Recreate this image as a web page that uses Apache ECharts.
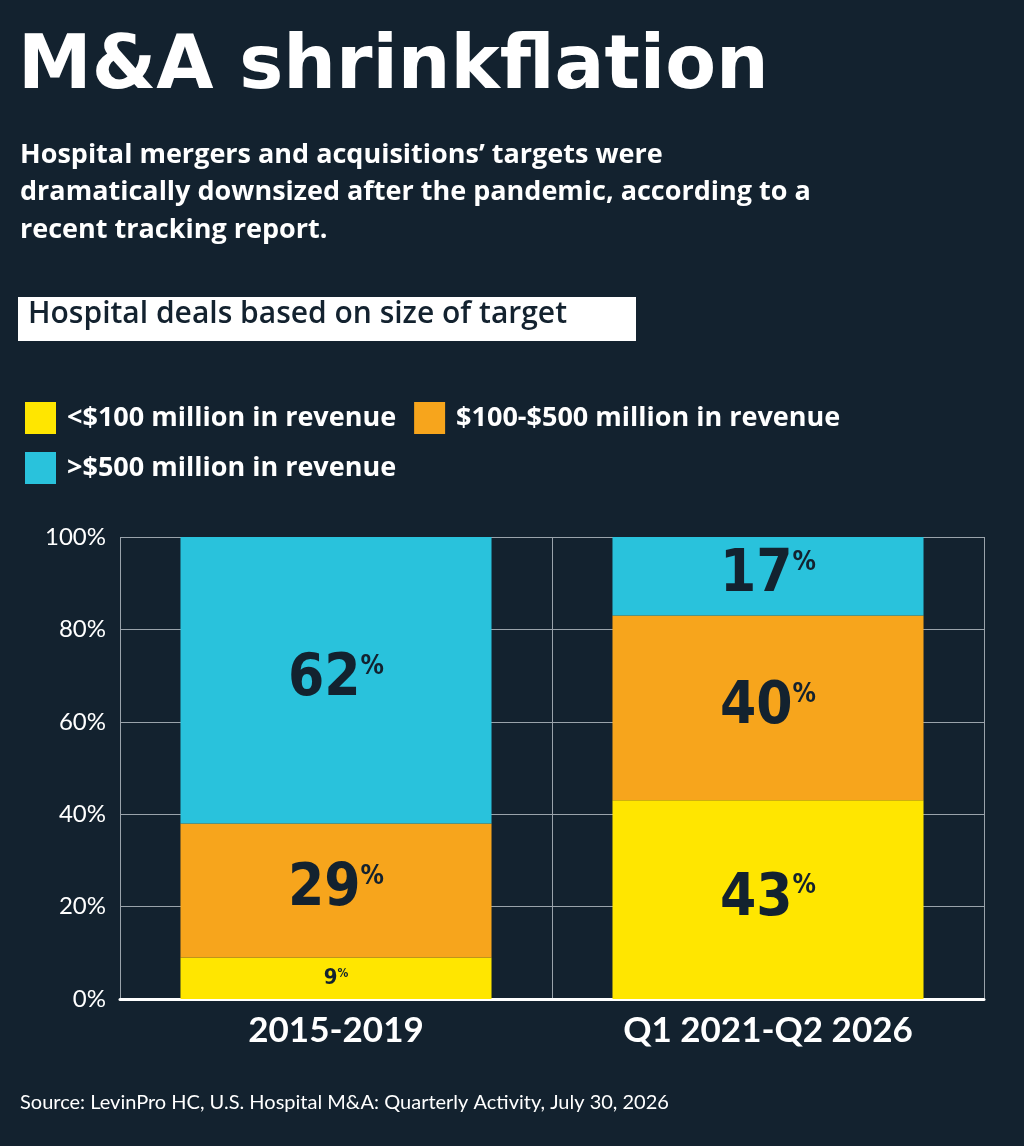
<!DOCTYPE html>
<html><head><meta charset="utf-8">
<script src="https://cdn.jsdelivr.net/npm/echarts@6/dist/echarts.min.js"></script>
<style>html,body{margin:0;padding:0;background:#13222f}#c{width:1024px;height:1146px}</style>
</head><body><div id="c"></div>
<script>
const categories = ['2015-2019', 'Q1 2021-Q2 2026'];
const small = [9, 43];
const mid = [29, 40];
const large = [62, 17];
const yTicks = ['0%', '20%', '40%', '60%', '80%', '100%'];
const seriesNames = ['<$100 million in revenue', '$100-$500 million in revenue', '>$500 million in revenue'];
const colors = ['#ffe600', '#f7a51c', '#29c2dc'];

const chart = echarts.init(document.getElementById('c'));
const LF = 'DejaVu Sans Condensed';
function mk(name, data, color) {
  return {
    name, type: 'bar', stack: 's', data, barWidth: '72%',
    itemStyle: { color },
    label: {
      show: true, position: 'inside',
      formatter: p => p.value < 15 ? '{s|' + p.value + '}{sp|%}' : '{n|' + p.value + '}{p|%}',
      rich: {
        n: { fontFamily: LF, fontWeight: 'bold', fontSize: 58, color: '#13222f' },
        p: { fontFamily: LF, fontWeight: 'bold', fontSize: 26, color: '#13222f', padding: [0, 0, 26, 0] },
        s: { fontFamily: LF, fontWeight: 'bold', fontSize: 22, color: '#13222f' },
        sp: { fontFamily: LF, fontWeight: 'bold', fontSize: 12, color: '#13222f', padding: [0, 0, 8, 0] }
      }
    }
  };
}
const txt = (x, y, text, size, weight, fam, extra) => ({ type: 'text', left: x, top: y, style: Object.assign({ text, fill: '#fff', font: weight + ' ' + size + 'px ' + fam }, extra || {}) });
chart.setOption({
  backgroundColor: '#13222f',
  animation: false,
  grid: { left: 120, right: 40, top: 537, bottom: 147 },
  legend: {
    left: 20, top: 397, itemWidth: 31, itemHeight: 32, itemGap: 18, width: 980,
    icon: 'rect',
    textStyle: { color: '#fff', fontFamily: 'Open Sans', fontWeight: 'bold', fontSize: 27, padding: [0, 0, 0, 6] },
    data: seriesNames
  },
  xAxis: {
    type: 'category', data: categories,
    axisLine: { lineStyle: { color: '#fff', width: 3 } },
    axisTick: { show: false },
    splitLine: { show: true, lineStyle: { color: '#9aa3ab', width: 1 } },
    axisLabel: { color: '#fff', fontFamily: 'Lato', fontWeight: 'bold', fontSize: 35, margin: 14 }
  },
  yAxis: {
    type: 'value', min: 0, max: 100, interval: 20,
    axisLabel: { color: '#fff', fontFamily: 'Lato', fontSize: 24, margin: 14, formatter: v => yTicks[v / 20] },
    splitLine: { lineStyle: { color: '#9aa3ab', width: 1 } },
    axisLine: { show: false }
  },
  series: [mk(seriesNames[0], small, colors[0]), mk(seriesNames[1], mid, colors[1]), mk(seriesNames[2], large, colors[2])],
  graphic: [
    txt(18, 32, 'M&A shrinkflation', 74, 'bold', 'DejaVu Sans'),
    txt(20, 142, 'Hospital mergers and acquisitions\u2019 targets were', 27, 'bold', 'Open Sans'),
    txt(20, 179, 'dramatically downsized after the pandemic, according to a', 27, 'bold', 'Open Sans'),
    txt(20, 217, 'recent tracking report.', 27, 'bold', 'Open Sans'),
    { type: 'rect', left: 18, top: 297, shape: { width: 618, height: 44 }, style: { fill: '#fff' } },
    txt(28, 299, 'Hospital deals based on size of target', 30, '600', 'Open Sans', { fill: '#13222f' }),
    txt(20, 1093, 'Source: LevinPro HC, U.S. Hospital M&A: Quarterly Activity, July 30, 2026', 20, 'normal', 'Lato', {})
  ]
});
</script></body></html>
